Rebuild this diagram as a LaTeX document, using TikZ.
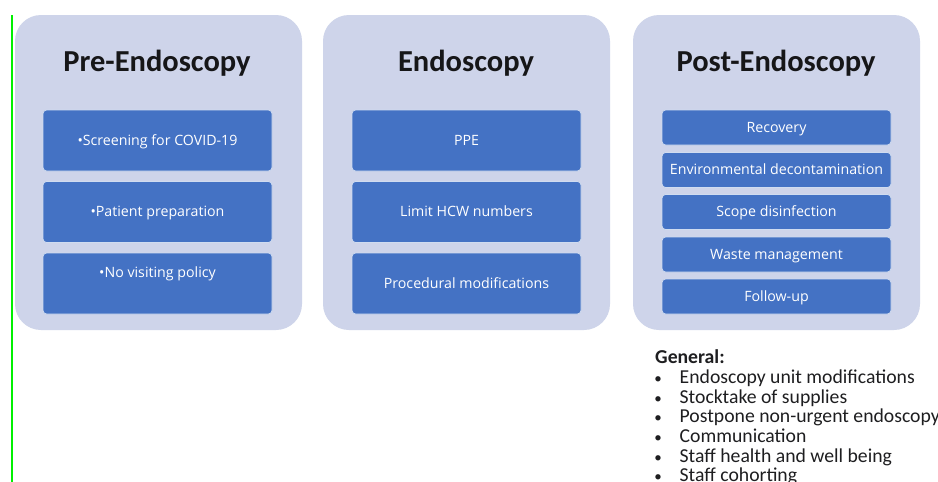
\documentclass[tikz,border=0pt]{standalone}
\usepackage{fontspec}
\setmainfont{Carlito}
\newfontfamily\boxfont{Open Sans}
\definecolor{panelfill}{RGB}{206,212,234}
\definecolor{itemblue}{RGB}{68,114,196}
\definecolor{titleink}{RGB}{22,22,24}
\definecolor{listink}{RGB}{30,30,32}
\definecolor{edgegreen}{RGB}{0,240,0}
\begin{document}
\begin{tikzpicture}[x=1pt,y=-1pt,
  panel/.style={fill=panelfill, draw=none, rounded corners=26pt,
    minimum width=287pt, minimum height=315pt, inner sep=0pt},
  item/.style={fill=itemblue, draw=white!75!itemblue, line width=0.8pt,
    rounded corners=3.5pt, minimum width=229pt, inner sep=0pt,
    text height=9.5pt, text depth=0.5pt,
    text=white, font=\boxfont\fontsize{14.2}{16}\selectfont},
  tallitem/.style={item, minimum height=61pt},
  shortitem/.style={item, minimum height=35pt},
  itemlabel/.style={text=white, font=\boxfont\fontsize{14.2}{16}\selectfont,
    text height=9.5pt, text depth=0.5pt, inner sep=0pt},
  heading/.style={font=\bfseries\fontsize{30.5}{34}\selectfont, text=titleink, inner sep=0pt},
  listline/.style={anchor=base west, font=\fontsize{19.7}{20}\selectfont, text=listink, inner sep=0pt},
  listdot/.style={anchor=base, font=\fontsize{15}{20}\selectfont, text=listink, inner sep=0pt}]
\useasboundingbox (0,0) rectangle (938,482);
\fill[white] (0,0) rectangle (938,482);

% margin rule on the left
\draw[edgegreen, line width=2.5pt] (12,15) -- (12,482);

% three phase panels
\node[panel] (pre)  at (158.5,172.5) {};
\node[panel] (endo) at (466.5,172.5) {};
\node[panel] (post) at (776.5,172.5) {};

\node[heading] (preT)  at (157,63) {Pre-Endoscopy};
\node[heading] (endoT) at (466,63) {Endoscopy};
\node[heading] (postT) at (776,63) {Post-Endoscopy};

% pre-endoscopy items
\node[tallitem] (pre1) at (157.5,140.5) {\textbullet Screening for COVID-19};
\node[tallitem] (pre2) at (157.5,212) {\textbullet Patient preparation};
\node[tallitem] (pre3) at (157.5,283.5) {};
\node[itemlabel] (pre3t) at (157.5,273) {\textbullet No visiting policy};

% endoscopy items
\node[tallitem] (endo1) at (466.5,140.5) {PPE};
\node[tallitem] (endo2) at (466.5,212) {Limit HCW numbers};
\node[tallitem] (endo3) at (466.5,283.5) {Procedural modifications};

% post-endoscopy items
\node[shortitem] (post1) at (776.5,127.5) {Recovery};
\node[shortitem] (post2) at (776.5,170) {Environmental decontamination};
\node[shortitem] (post3) at (776.5,212) {Scope disinfection};
\node[shortitem] (post4) at (776.5,254.5) {Waste management};
\node[shortitem] (post5) at (776.5,296.5) {Follow-up};

% general measures
\node[listline, font=\bfseries\fontsize{19.7}{20}\selectfont] (gen) at (655,363) {General:};
\foreach \i/\txt in {0/Endoscopy unit modifications,
                     1/Stocktake of supplies,
                     2/Postpone non-urgent endoscopy,
                     3/Communication,
                     4/Staff health and well being,
                     5/Staff cohorting}{
  \node[listdot] (gdot\i) at (658,383.3+19.7*\i) {\textbullet};
  \node[listline] (gtxt\i) at (679.5,383.3+19.7*\i) {\txt};
}
\end{tikzpicture}
\end{document}
